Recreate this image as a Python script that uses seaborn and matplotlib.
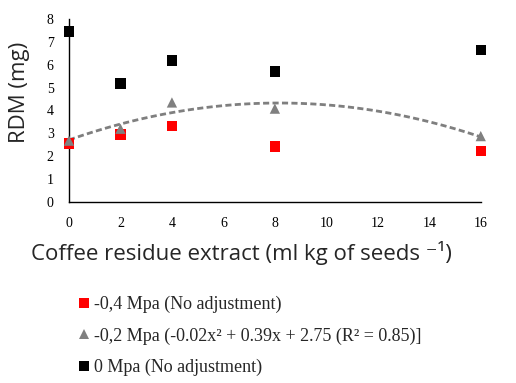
import numpy as np
import pandas as pd
import matplotlib
matplotlib.use('Agg')
import matplotlib.pyplot as plt
import seaborn as sns

# dados
doses = [0, 2, 4, 8, 16]
rdm_m04 = [2.55, 2.95, 3.32, 2.43, 2.22]
rdm_m02 = [2.68, 3.20, 4.35, 4.08, 2.88]
rdm_0 = [7.45, 5.18, 6.18, 5.70, 6.65]
x_ticks = [0, 2, 4, 6, 8, 10, 12, 14, 16]
y_ticks = [0, 1, 2, 3, 4, 5, 6, 7, 8]

lab_m04 = '-0,4 Mpa (No adjustment)'
lab_m02 = '-0,2 Mpa (-0.02x² + 0.39x + 2.75 (R² = 0.85)]'
lab_0 = '0 Mpa (No adjustment)'

df = pd.DataFrame({
    'dose': doses * 3,
    'rdm': rdm_m04 + rdm_m02 + rdm_0,
    'serie': [lab_m04] * 5 + [lab_m02] * 5 + [lab_0] * 5,
})

sns.set_style('white')
plt.rcParams['font.family'] = ['Liberation Serif', 'DejaVu Serif']

fig = plt.figure(figsize=(5.16, 3.83), dpi=100)
ax = fig.add_axes([0.1337, 0.4726, 0.798, 0.478])

# linha de tendência quadrática da série -0,2 Mpa
coef = np.polyfit(doses, rdm_m02, 2)
xs = np.linspace(0, 16, 100)
ax.plot(xs, np.polyval(coef, xs), color='#7f7f7f', lw=2.0,
        linestyle=(0, (2.2, 1.2)), zorder=2)

sns.scatterplot(data=df, x='dose', y='rdm', hue='serie', style='serie',
                palette={lab_m04: '#ff0000', lab_m02: '#808080', lab_0: '#000000'},
                markers={lab_m04: 's', lab_m02: '^', lab_0: 's'},
                s=55, linewidth=0, ax=ax, clip_on=False, zorder=3, legend=True)

ax.set_xlim(0, 16)
ax.set_ylim(0, 8)
ax.set_xticks(x_ticks)
ax.set_yticks(y_ticks)
ax.tick_params(direction='in', length=5, width=1, labelsize=10, colors='black')
ax.tick_params(axis='y', pad=11)
ax.tick_params(axis='x', pad=11)
for s in ['top', 'right']:
    ax.spines[s].set_visible(False)
for s in ['left', 'bottom']:
    ax.spines[s].set_color('black')
    ax.spines[s].set_linewidth(1)

ax.set_ylabel('RDM (mg)', family=['Open Sans', 'DejaVu Sans'], fontsize=16)
ax.yaxis.set_label_coords(-0.095, 0.60)
ax.set_xlabel('Coffee residue extract (ml kg of seeds ⁻¹)',
              family=['Open Sans', 'DejaVu Sans'], fontsize=16)
ax.xaxis.set_label_coords(0.42, -0.215)

handles, labels = ax.get_legend_handles_labels()
ax.get_legend().remove()
fig.legend(handles, labels, loc='upper left', bbox_to_anchor=(0.127, 0.251),
           frameon=False, fontsize=13, handletextpad=0.1, labelspacing=0.79,
           handlelength=1.0, borderpad=0)

fig.savefig('out.png', dpi=100)
